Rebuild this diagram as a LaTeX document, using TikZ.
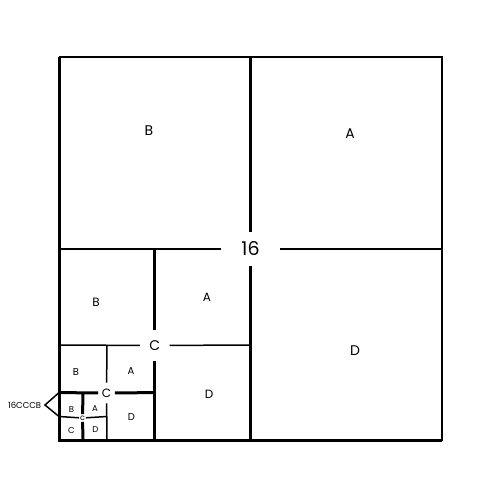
\documentclass[tikz,border=0pt]{standalone}
\usepackage{fontspec}
\setmainfont{Poppins}
\tikzset{every picture/.style={line width=0.75pt}}
\tikzset{
  thickln/.style={line width=3pt},
  midln/.style={line width=2pt},
  thinln/.style={line width=1.5pt},
  cutlbl/.style={inner sep=0pt},
  qlbl/.style={inner sep=0pt},
}
\newcommand{\fsz}[1]{\fontsize{#1}{#1}\selectfont}

\begin{document}
\begin{tikzpicture}[x=1pt,y=1pt,yscale=-1,xscale=1]
\useasboundingbox (0,0) rectangle (500,500);

% frame corners
\coordinate (tl) at (59,57);
\coordinate (tr) at (442,57);
\coordinate (br) at (442,440.5);
\coordinate (bl) at (59,440.5);

% split points, level 1 to 4
\coordinate (t1) at (250.5,57);   \coordinate (b1) at (250.5,440.5);
\coordinate (l1) at (59,249);     \coordinate (r1) at (442,249);
\coordinate (t2) at (154.75,249); \coordinate (b2) at (154.75,440.5);
\coordinate (l2) at (59,345);     \coordinate (r2) at (250.5,345);
\coordinate (t3) at (107,345);    \coordinate (b3) at (107,440.5);
\coordinate (l3) at (59,392.6);   \coordinate (r3) at (154.75,392.6);
\coordinate (t4) at (83,392.6);   \coordinate (b4) at (83,440.5);
\coordinate (l4) at (59,416.5);   \coordinate (r4) at (107,416.5);

% cut labels
\node [cutlbl, font=\fsz{19}, minimum width=58pt, minimum height=34pt] (cut1) at (250.5,249) {16};
\node [cutlbl, font=\fsz{14}, minimum width=29pt, minimum height=30pt] (cut2) at (154.75,345.5) {C};
\node [cutlbl, font=\fsz{12}, minimum width=16pt, minimum height=20pt] (cut3) at (106.5,393) {C};
\node [cutlbl, font=\fsz{8}, minimum width=6pt, minimum height=7pt] (cut4) at (82.5,418) {c};

% frame
\draw [midln]  (tl) -- (tr) -- (br) ;
\draw [thickln]  (tl) -- (bl) -- (br) ;

% level 1
\draw [thickln]  (t1) -- (cut1) ;
\draw [thickln]  (cut1) -- (b1) ;
\draw [thinln]  (l1) -- (cut1) ;
\draw [thinln]  (cut1) -- (r1) ;
% level 2
\draw [thickln]  (t2) -- (cut2) ;
\draw [thickln]  (cut2) -- (b2) ;
\draw [thinln]  (l2) -- (cut2) ;
\draw [thinln]  (cut2) -- (r2) ;
% level 3
\draw [thinln]  (t3) -- (cut3) ;
\draw [thinln]  (cut3) -- (b3) ;
\draw [thickln]  (l3) -- (cut3) ;
\draw [thickln]  (cut3) -- (r3) ;
% level 4
\draw [thickln]  (t4) -- (cut4) ;
\draw [thickln]  (cut4) -- (b4) ;
\draw [thinln]  (l4) -- (cut4) ;
\draw [thinln]  (cut4) -- (r4) ;

% quadrant letters
\node [qlbl, font=\fsz{14}] (b1q) at (149,131) {B};
\node [qlbl, font=\fsz{14}] (a1q) at (350,134) {A};
\node [qlbl, font=\fsz{14}] (d1q) at (355,351) {D};
\node [qlbl, font=\fsz{12}] (b2q) at (96,302) {B};
\node [qlbl, font=\fsz{12}] (a2q) at (207,297) {A};
\node [qlbl, font=\fsz{12}] (d2q) at (209,394) {D};
\node [qlbl, font=\fsz{10}] (b3q) at (76,372.5) {B};
\node [qlbl, font=\fsz{10}] (a3q) at (131,371.5) {A};
\node [qlbl, font=\fsz{10}] (d3q) at (131.5,417.5) {D};
\node [qlbl, font=\fsz{8.5}] (b4q) at (71.5,409.5) {B};
\node [qlbl, font=\fsz{8.5}] (a4q) at (95,408.5) {A};
\node [qlbl, font=\fsz{8.5}] (c4q) at (71.5,430.5) {C};
\node [qlbl, font=\fsz{8.5}] (d4q) at (95.5,430) {D};

% path of the smallest block
\node [qlbl, font=\fsz{8.5}, anchor=east] (route) at (41.5,405) {16CCCB};
\draw [thinln]  (l3) -- ([xshift=3.5pt]route.east) -- (l4) ;

\end{tikzpicture}
\end{document}
